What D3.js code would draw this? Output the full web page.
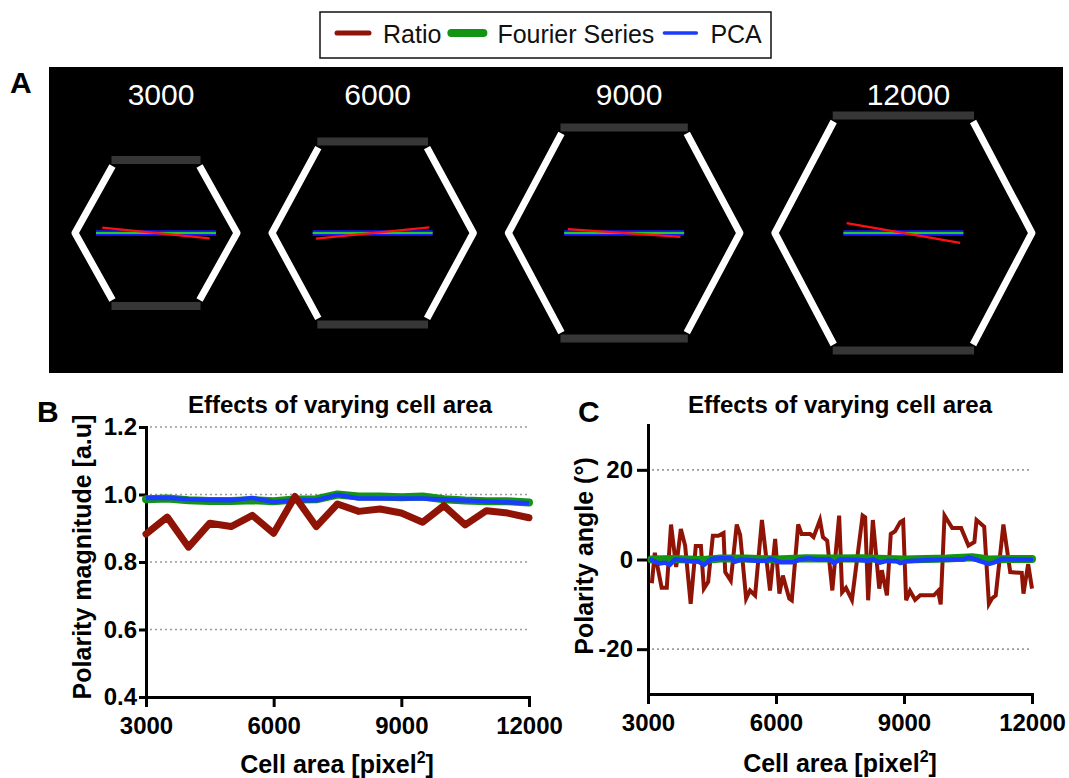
<!DOCTYPE html>
<html lang="en">
<head>
<meta charset="UTF-8">
<title>Effects of varying cell area</title>
<script src="https://cdn.jsdelivr.net/npm/d3@7"></script>
<style>
  body { margin: 0; background: #fff; }
  svg { display: block; font-family: "Liberation Sans", Arial, Helvetica, sans-serif; }
</style>
</head>
<body>
<svg id="fig" width="1069" height="778"></svg>
<script>
// ---------- data ----------
const seriesNames = ["Ratio", "Fourier Series", "PCA"];

// panel A: example cells
const sampleAreas = [3000, 6000, 9000, 12000];
const sampleRatioAngle = [-5.7, 5.6, -3.9, -9.8];     // degrees
const sampleRatioMag = [0.90, 0.95, 0.94, 0.96];
const sampleFourierAngle = [0, 0, 0, 0];
const sampleFourierMag = [1, 1, 1, 1];
const samplePcaAngle = [0, 0, 0, 0];
const samplePcaMag = [1, 1, 1, 1];

// panel B: polarity magnitude
const areaB = [3000, 3500, 4000, 4500, 5000, 5500, 6000, 6500, 7000, 7500,
               8000, 8500, 9000, 9500, 10000, 10500, 11000, 11500, 12000];
const ratioMagB = [0.883, 0.933, 0.844, 0.915, 0.905, 0.938, 0.885, 0.994, 0.905, 0.972,
                   0.950, 0.957, 0.945, 0.918, 0.967, 0.910, 0.952, 0.945, 0.931];
const fourierMagB = [0.986, 0.988, 0.983, 0.981, 0.981, 0.983, 0.980, 0.985, 0.986, 1.000,
                     0.994, 0.994, 0.992, 0.994, 0.986, 0.982, 0.980, 0.980, 0.976];
const pcaMagB = [0.990, 0.990, 0.986, 0.984, 0.983, 0.990, 0.978, 0.983, 0.983, 0.999,
                 0.988, 0.988, 0.988, 0.988, 0.985, 0.982, 0.979, 0.977, 0.974];
const yTicksB = [0.4, 0.6, 0.8, 1.0, 1.2];
const gridB = [0.6, 0.8, 1.0, 1.2];

// panel C: polarity angle
const ratioAreaC = [3090, 3160, 3320, 3440, 3540, 3660, 3770, 3870, 4000, 4120,
                    4240, 4310, 4410, 4520, 4650, 4770, 4810, 4940, 5080, 5160,
                    5300, 5390, 5510, 5670, 5860, 5980, 6080, 6160, 6310, 6370,
                    6520, 6600, 6800, 6880, 7030, 7100, 7200, 7320, 7480, 7550,
                    7640, 7780, 8030, 8090, 8160, 8270, 8420, 8480, 8600, 8690,
                    8790, 8910, 8980, 9050, 9140, 9260, 9380, 9700, 9800, 9860,
                    9950, 10130, 10340, 10510, 10650, 10700, 10880, 10990, 11060, 11150,
                    11330, 11490, 11760, 11800, 11910, 12000];
const ratioAngleC = [-5.3, 1.5, -6.3, -6.3, 7.8, -1.7, 6.8, 3.1, -9.9, 3.0,
                     3.0, -6.5, -5.0, 5.3, 5.3, 5.9, -2.8, -4.7, 7.8, 5.5,
                     -8.7, -6.9, -8.0, 8.8, -6.9, 4.6, -7.6, -3.6, -8.7, -9.1,
                     7.8, 5.7, 5.7, 5.0, 8.8, 5.0, 4.2, -6.9, 9.8, -7.3,
                     -6.3, -9.0, 9.8, 9.4, -9.1, 8.8, -6.5, -2.4, -8.0, 5.7,
                     6.3, 8.3, 8.7, -9.1, -7.0, -9.0, -8.0, -8.0, -7.0, -10.0,
                     9.8, 7.0, 7.0, 3.1, 3.9, 8.8, 7.3, -9.9, -8.7, -8.0,
                     7.8, -2.8, -3.0, -7.6, -1.0, -6.5];
const fourierAreaC = [3080, 3600, 4300, 4700, 5300, 6000, 6700, 7300, 8000, 9000,
                      9500, 10000, 10600, 11000, 11500, 12000];
const fourierAngleC = [0.0, 0.1, -0.1, 0.2, 0.2, 0.0, 0.3, 0.2, 0.3, 0.0,
                       0.1, 0.2, 0.5, 0.0, 0.1, 0.1];
const pcaAreaC = [3080, 3270, 3410, 3510, 3630, 3860, 4060, 4170, 4310, 4490,
                  4680, 4960, 5030, 5190, 5540, 5780, 5870, 6090, 6400, 6560,
                  6760, 6950, 7270, 7360, 7500, 7970, 8130, 8280, 8440, 8600,
                  8830, 8910, 9070, 9530, 10160, 10400, 10510, 10670, 10980, 11100,
                  11300, 11730, 11980];
const pcaAngleC = [-0.1, -0.9, -0.7, -1.2, 0.0, -0.2, -0.4, -0.4, -1.2, 0.1,
                   0.3, 0.3, -0.5, 0.0, -0.3, -0.3, 0.2, -0.6, -0.6, 0.0,
                   0.3, 0.0, 0.0, -0.8, 0.0, -0.1, -0.3, 0.0, -0.7, -0.3,
                   -0.4, -0.8, -0.4, -0.1, 0.0, 0.0, 0.5, 0.0, -1.0, -0.7,
                   0.1, 0.0, 0.0];
const yTicksC = [-20, 0, 20];
const gridC = [-20, 20];
const xTicks = [3000, 6000, 9000, 12000];

// ---------- styles ----------
const colors = { ratio: "#8f1405", fourier: "#139413", pca: "#1a3cff" };
const boldFont = "bold";
const svg = d3.select("#fig");

svg.append("rect").attr("width", 1069).attr("height", 778).attr("fill", "#fff");

// ---------- legend ----------
const legend = svg.append("g");
legend.append("rect")
  .attr("x", 320).attr("y", 12).attr("width", 451).attr("height", 46)
  .attr("fill", "#fff").attr("stroke", "#111").attr("stroke-width", 1.5);

const legendColors = [colors.ratio, colors.fourier, colors.pca];
const legendWidths = [5, 8, 3.5];
let lx = 337;
seriesNames.forEach((name, i) => {
  legend.append("line")
    .attr("x1", lx).attr("x2", lx + 32).attr("y1", 33).attr("y2", 33)
    .attr("stroke", legendColors[i]).attr("stroke-width", legendWidths[i])
    .attr("stroke-linecap", "round");
  const t = legend.append("text")
    .attr("x", lx + 46).attr("y", 43)
    .attr("font-size", 25).attr("fill", "#111")
    .text(name);
  lx = lx + 46 + t.node().getComputedTextLength() + 10;
});

// ---------- panel A ----------
svg.append("text").attr("x", 10).attr("y", 93)
  .attr("font-size", 30).attr("font-weight", boldFont).text("A");

svg.append("rect").attr("x", 49).attr("y", 67).attr("width", 1014).attr("height", 306)
  .attr("fill", "#000");

const hexW = d3.scalePow().exponent(0.5).domain([3000, 12000]).range([162, 257]);
const hexH = d3.scalePow().exponent(0.5).domain([3000, 12000]).range([146, 235]);
const vecLen = d3.scaleLinear().domain([0, 1]).range([0, 120]);
const hexCy = 233;
const hexGap = 35;

let cx = 156 - hexW(sampleAreas[0]) / 2;
const cells = svg.append("g");
sampleAreas.forEach((area, i) => {
  const w = hexW(area), h = hexH(area);
  cx += (i === 0 ? w / 2 : hexW(sampleAreas[i - 1]) / 2 + hexGap + w / 2);
  const top = hexCy - h / 2, bot = hexCy + h / 2, tw = 0.55 * w;
  const g = cells.append("g");

  // grey top/bottom edges
  [top, bot].forEach(y => {
    g.append("line")
      .attr("x1", cx - tw / 2).attr("x2", cx + tw / 2).attr("y1", y).attr("y2", y)
      .attr("stroke", "#363636").attr("stroke-width", 8);
  });
  // white slanted sides
  [-1, 1].forEach(s => {
    const p = d3.path();
    p.moveTo(cx + s * (tw / 2 - 1), top + 6);
    p.lineTo(cx + s * w / 2, hexCy);
    p.lineTo(cx + s * (tw / 2 - 1), bot - 6);
    g.append("path").attr("d", p.toString())
      .attr("fill", "none").attr("stroke", "#fff").attr("stroke-width", 7)
      .attr("stroke-linejoin", "round");
  });

  // polarity vectors
  const vec = (ang, mag) => {
    const r = vecLen(mag) / 2, a = ang * Math.PI / 180;
    return { x1: cx - r * Math.cos(a), y1: hexCy + r * Math.sin(a),
             x2: cx + r * Math.cos(a), y2: hexCy - r * Math.sin(a) };
  };
  const draw = (v, col, sw) => g.append("line")
    .attr("x1", v.x1).attr("y1", v.y1).attr("x2", v.x2).attr("y2", v.y2)
    .attr("stroke", col).attr("stroke-width", sw);
  draw(vec(samplePcaAngle[i], samplePcaMag[i]), "#1a1aff", 5.5);
  draw(vec(sampleFourierAngle[i], sampleFourierMag[i]), "#22cc22", 2);
  draw(vec(sampleRatioAngle[i], sampleRatioMag[i]), "#ff1010", 2.2);

  g.append("text").attr("x", cx + 5).attr("y", 105)
    .attr("text-anchor", "middle").attr("fill", "#fff").attr("font-size", 30)
    .text(area);
});

// ---------- axis helpers ----------
function styleAxis(g) {
  g.attr("font-family", null).attr("font-size", null);
  g.select(".domain").attr("stroke", "#000").attr("stroke-width", 3)
    .attr("stroke-linecap", "square");
  g.selectAll(".tick line").attr("stroke", "#000").attr("stroke-width", 3);
  g.selectAll(".tick text").attr("font-size", 24).attr("font-weight", boldFont)
    .attr("fill", "#000");
}

function xTitle(x, y) {
  const t = svg.append("text").attr("x", x).attr("y", y)
    .attr("text-anchor", "middle").attr("font-size", 25).attr("font-weight", boldFont);
  t.append("tspan").text("Cell area [pixel");
  t.append("tspan").attr("dy", -10).attr("font-size", 16).text("2");
  t.append("tspan").attr("dy", 10).text("]");
}

function panel(opts) {
  const { x, y, yTicks, grid, fmt, tickLeft, padLeft } = opts;
  const g = svg.append("g");
  grid.forEach(v => {
    g.append("line")
      .attr("x1", x.range()[0] + 4).attr("x2", x.range()[1])
      .attr("y1", y(v)).attr("y2", y(v))
      .attr("stroke", "#9a9a9a").attr("stroke-width", 1.6)
      .attr("stroke-dasharray", "2,3");
  });
  g.append("g").attr("transform", `translate(0,${y.range()[0]})`)
    .call(d3.axisBottom(x).tickValues(xTicks).tickFormat(d => String(d))
      .tickSize(10).tickSizeOuter(0).tickPadding(10))
    .call(styleAxis);
  g.append("g").attr("transform", `translate(${x.range()[0]},0)`)
    .call(d3.axisLeft(y).tickValues(yTicks).tickFormat(fmt)
      .tickSize(tickLeft).tickSizeOuter(0).tickPadding(padLeft))
    .call(styleAxis);
  return g;
}

function title(x, text) {
  svg.append("text").attr("x", x).attr("y", 413).attr("text-anchor", "middle")
    .attr("font-size", 24).attr("font-weight", boldFont).text(text);
}

function yTitle(x, y, text) {
  svg.append("text").attr("transform", `translate(${x},${y}) rotate(-90)`)
    .attr("text-anchor", "middle").attr("font-size", 25).attr("font-weight", boldFont)
    .text(text);
}

// ---------- panel B ----------
const xB = d3.scaleLinear().domain([3000, 12000]).range([146, 529]);
const yB = d3.scaleLinear().domain([0.4, 1.2]).range([697, 427]);
const gB = panel({ x: xB, y: yB, yTicks: yTicksB, grid: gridB,
                   fmt: d => d.toFixed(1), tickLeft: 7, padLeft: 2 });

const lineB = vals => d3.line().x((d, i) => xB(areaB[i])).y(d => yB(d))(vals);
gB.append("path").attr("d", lineB(fourierMagB)).attr("fill", "none")
  .attr("stroke", colors.fourier).attr("stroke-width", 8).attr("stroke-linejoin", "round")
  .attr("stroke-linecap", "round");
gB.append("path").attr("d", lineB(pcaMagB)).attr("fill", "none")
  .attr("stroke", colors.pca).attr("stroke-width", 4.5).attr("stroke-linejoin", "round");
gB.append("path").attr("d", lineB(ratioMagB)).attr("fill", "none")
  .attr("stroke", colors.ratio).attr("stroke-width", 7).attr("stroke-linejoin", "round")
  .attr("stroke-linecap", "round");

svg.append("text").attr("x", 37).attr("y", 422)
  .attr("font-size", 30).attr("font-weight", boldFont).text("B");
title(340, "Effects of varying cell area");
yTitle(91, 557, "Polarity magnitude [a.u]");
xTitle(337, 773);

// ---------- panel C ----------
const xC = d3.scaleLinear().domain([3000, 12000]).range([648, 1032]);
const yC = d3.scaleLinear().domain([-30, 30]).range([694, 425]);
const gC = panel({ x: xC, y: yC, yTicks: yTicksC, grid: gridC,
                   fmt: d => String(d), tickLeft: 11, padLeft: 4 });

const lineC = (xs, vals) => d3.line().x((d, i) => xC(xs[i])).y(d => yC(d))(vals);
gC.append("path").attr("d", lineC(ratioAreaC, ratioAngleC)).attr("fill", "none")
  .attr("stroke", colors.ratio).attr("stroke-width", 4);
gC.append("path").attr("d", lineC(fourierAreaC, fourierAngleC)).attr("fill", "none")
  .attr("stroke", colors.fourier).attr("stroke-width", 8).attr("stroke-linejoin", "round")
  .attr("stroke-linecap", "round");
gC.append("path").attr("d", lineC(pcaAreaC, pcaAngleC)).attr("fill", "none")
  .attr("stroke", colors.pca).attr("stroke-width", 4.5).attr("stroke-linejoin", "round")
  .attr("stroke-linecap", "round");

svg.append("text").attr("x", 578).attr("y", 422)
  .attr("font-size", 30).attr("font-weight", boldFont).text("C");
title(840, "Effects of varying cell area");
yTitle(593, 556, "Polarity angle (\u00B0)");
xTitle(840, 772);
</script>
</body>
</html>
